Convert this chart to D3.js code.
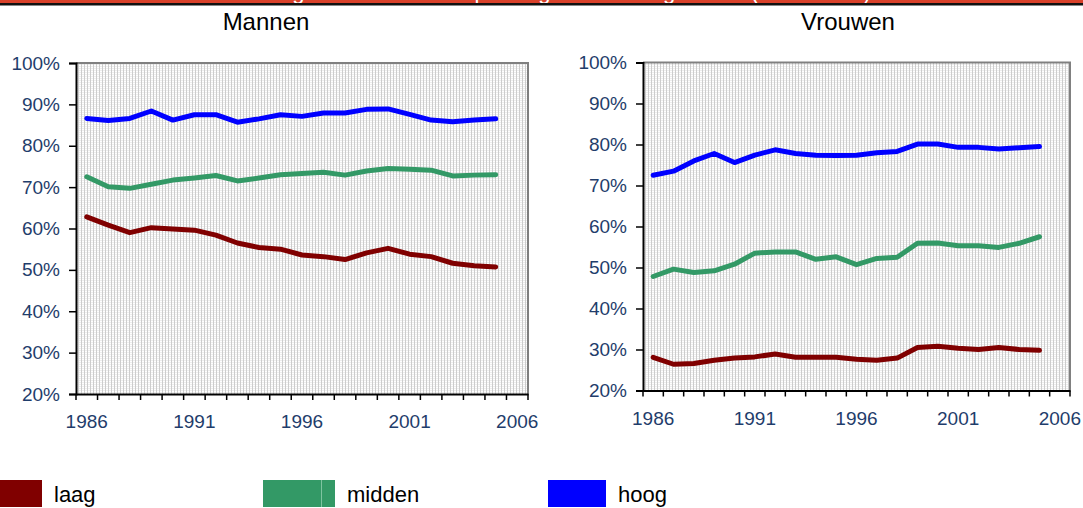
<!DOCTYPE html>
<html>
<head>
<meta charset="utf-8">
<script src="https://cdn.jsdelivr.net/npm/d3@7"></script>
<style>
  body { margin: 0; background: #fff; }
  text { font-family: "Liberation Sans", Arial, sans-serif; }
</style>
</head>
<body>
<svg id="chart" width="1083" height="508"></svg>
<script>
// data
const years = d3.range(1986, 2006);          // 1986..2005 measured
const slots = d3.range(1986, 2007);          // axis categories 1986..2006
const labelYears = [1986, 1991, 1996, 2001, 2006];
const yTicks = [20, 30, 40, 50, 60, 70, 80, 90, 100];

const mannenLaag = [62.8, 60.8, 59.0, 60.2, 59.9, 59.6, 58.4, 56.5, 55.4, 55.0,
                    53.6, 53.2, 52.5, 54.1, 55.2, 53.8, 53.2, 51.6, 51.0, 50.7];
const mannenMidden = [72.5, 70.1, 69.7, 70.7, 71.7, 72.2, 72.8, 71.5, 72.2, 73.0,
                      73.3, 73.6, 72.9, 73.9, 74.5, 74.3, 74.1, 72.7, 72.9, 73.0];
const mannenHoog = [86.6, 86.1, 86.6, 88.4, 86.2, 87.5, 87.5, 85.7, 86.5, 87.5,
                    87.1, 87.9, 87.9, 88.8, 88.9, 87.6, 86.2, 85.8, 86.2, 86.5];

const vrouwenLaag = [28.1, 26.4, 26.6, 27.4, 27.9, 28.2, 28.9, 28.1, 28.1, 28.1,
                     27.6, 27.4, 27.9, 30.5, 30.8, 30.3, 30.0, 30.5, 30.0, 29.8];
const vrouwenMidden = [47.8, 49.6, 48.8, 49.2, 50.8, 53.5, 53.8, 53.8, 52.0, 52.6,
                       50.7, 52.2, 52.5, 55.9, 56.0, 55.3, 55.3, 54.9, 55.9, 57.5];
const vrouwenHoog = [72.5, 73.5, 76.0, 77.8, 75.6, 77.4, 78.7, 77.8, 77.4, 77.3,
                     77.4, 78.0, 78.3, 80.1, 80.1, 79.3, 79.3, 78.9, 79.2, 79.5];

const seriesNames = ["laag", "midden", "hoog"];
const colors = { laag: "#800000", midden: "#339966", hoog: "#0000FF" };
const tickColor = "#1F3D6B";

const svg = d3.select("#chart");

// light grid fill of the plot area
const defs = svg.append("defs");
const pat = defs.append("pattern")
  .attr("id", "grid")
  .attr("width", 3).attr("height", 2)
  .attr("patternUnits", "userSpaceOnUse");
pat.append("rect").attr("width", 3).attr("height", 2).attr("fill", "#ffffff");
pat.append("rect").attr("y", 0).attr("width", 3).attr("height", 1).attr("fill", "#eeeeee");
pat.append("rect").attr("x", 0).attr("width", 1).attr("height", 2).attr("fill", "#cdcdcd");

// thin banner at top, its title cut off
svg.append("rect").attr("x", 0).attr("y", 0).attr("width", 1083).attr("height", 3)
  .attr("fill", "#D9412A");
svg.append("rect").attr("x", 0).attr("y", 3).attr("width", 1083).attr("height", 2.5)
  .attr("fill", "#111");
defs.append("clipPath").attr("id", "bannerClip")
  .append("rect").attr("x", 0).attr("y", 0).attr("width", 1083).attr("height", 3);
svg.append("text")
  .attr("clip-path", "url(#bannerClip)")
  .attr("x", 540).attr("y", -1)
  .attr("text-anchor", "middle")
  .attr("font-size", 22)
  .attr("fill", "#fff")
  .text("Ervaren gezondheid naar opleidingsniveau en geslacht (1986-2005)");

function panel(title, data, box) {
  const g = svg.append("g");

  const x = d3.scaleBand()
    .domain(slots)
    .range([box.left, box.right])
    .padding(0);

  const y = d3.scaleLinear()
    .domain([20, 100])
    .range([box.bottom, box.top]);

  // plot background + frame
  g.append("rect")
    .attr("x", box.left).attr("y", box.top)
    .attr("width", box.right - box.left).attr("height", box.bottom - box.top)
    .attr("fill", "url(#grid)");
  g.append("path")
    .attr("d", `M${box.left},${box.top}H${box.right}V${box.bottom}`)
    .attr("fill", "none").attr("stroke", "#808080").attr("stroke-width", 2);

  // title
  g.append("text")
    .attr("x", box.titleX).attr("y", 30)
    .attr("text-anchor", "middle")
    .attr("font-size", 24)
    .attr("fill", "#000")
    .text(title);

  // y axis
  const yAxis = g.append("g")
    .attr("transform", `translate(${box.left},0)`)
    .call(d3.axisLeft(y).tickValues(yTicks).tickFormat(d => d + "%").tickSize(7).tickPadding(9));
  yAxis.select(".domain").attr("stroke", "#000").attr("stroke-width", 2);
  yAxis.selectAll(".tick line").attr("stroke", "#000").attr("stroke-width", 1.5);
  yAxis.selectAll(".tick text")
    .attr("font-size", 19)
    .attr("font-family", "Liberation Sans, Arial, sans-serif")
    .attr("fill", tickColor);

  // x axis: tick marks at slot boundaries, labels centered in slots
  const bounds = slots.map(d => x(d)).concat([x.range()[1]]);
  g.append("g").selectAll("line")
    .data(bounds)
    .join("line")
    .attr("x1", d => d).attr("x2", d => d)
    .attr("y1", box.bottom).attr("y2", box.bottom + 6)
    .attr("stroke", "#000").attr("stroke-width", 1.5);

  const xAxis = g.append("g")
    .attr("transform", `translate(0,${box.bottom})`)
    .call(d3.axisBottom(x).tickValues(labelYears).tickSize(0).tickPadding(21));
  xAxis.select(".domain").attr("stroke", "#000").attr("stroke-width", 2);
  xAxis.selectAll(".tick text")
    .attr("font-size", 19)
    .attr("font-family", "Liberation Sans, Arial, sans-serif")
    .attr("fill", tickColor);

  // lines
  const line = d3.line()
    .x((d, i) => x(years[i]) + x.bandwidth() / 2)
    .y(d => y(d));

  seriesNames.forEach(name => {
    g.append("path")
      .datum(data[name])
      .attr("d", line)
      .attr("fill", "none")
      .attr("stroke", colors[name])
      .attr("stroke-width", 5)
      .attr("stroke-linejoin", "round")
      .attr("stroke-linecap", "round");
  });
}

panel("Mannen", { laag: mannenLaag, midden: mannenMidden, hoog: mannenHoog },
  { left: 76, right: 528, top: 63, bottom: 394, titleX: 266 });
panel("Vrouwen", { laag: vrouwenLaag, midden: vrouwenMidden, hoog: vrouwenHoog },
  { left: 643, right: 1070, top: 62.5, bottom: 390.5, titleX: 848 });

// legend
const legendX = [0, 263, 548];
const legendW = [42, 72, 58];
const legend = svg.append("g");
seriesNames.forEach((name, i) => {
  legend.append("rect")
    .attr("x", legendX[i]).attr("y", 480)
    .attr("width", legendW[i]).attr("height", 27)
    .attr("fill", colors[name]);
  legend.append("text")
    .attr("x", legendX[i] + legendW[i] + 12).attr("y", 502)
    .attr("font-size", 22)
    .attr("fill", "#000")
    .text(name);
});
// thin light seam inside the midden swatch
legend.append("rect")
  .attr("x", 321).attr("y", 480).attr("width", 1).attr("height", 27)
  .attr("fill", "#7fc4a0");
</script>
</body>
</html>
